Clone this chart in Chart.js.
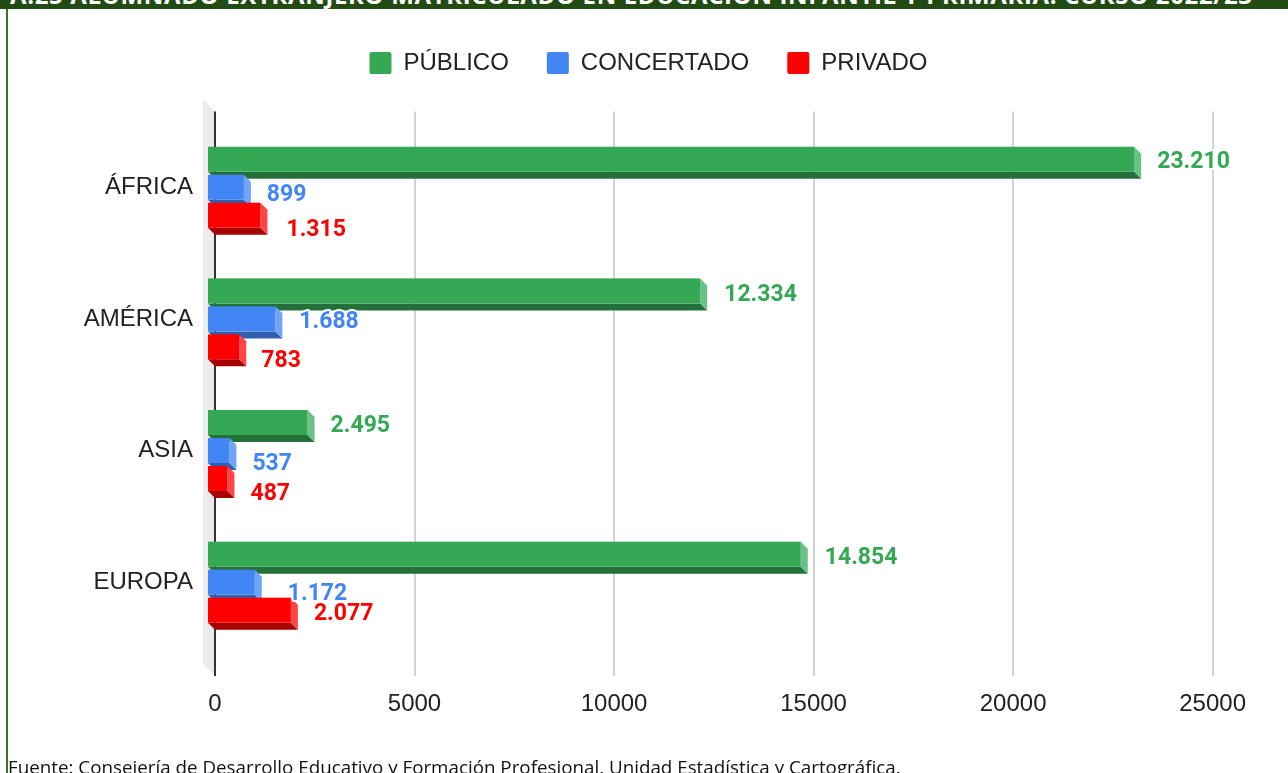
<!DOCTYPE html>
<html lang="es">
<head>
<meta charset="utf-8">
<script src="https://cdn.jsdelivr.net/npm/chart.js@4.4.1/dist/chart.umd.min.js"></script>
<style>
  html, body { margin: 0; padding: 0; background: #fff; }
  body { width: 1288px; height: 773px; position: relative; overflow: hidden; }
  #banner { position: absolute; left: 0; top: 0; width: 1288px; height: 9px; background: #214b12; overflow: hidden; }
  #banner span { position: absolute; left: 10px; top: -17px; font: bold 24px "Open Sans", sans-serif; line-height: 24px; color: #fff; white-space: nowrap; letter-spacing: 0.65px; }
  #leftLine { position: absolute; left: 6px; top: 9px; width: 2px; height: 764px; background: #3f6f2c; }
  #chartBox { position: absolute; left: 8px; top: 9px; width: 1280px; height: 764px; }
  #source { position: absolute; left: 8px; top: 755px; font: 18.8px "Open Sans", sans-serif; line-height: 24px; color: #111; white-space: nowrap; }
</style>
</head>
<body>
<div id="banner"><span>A.25 ALUMNADO EXTRANJERO MATRICULADO EN EDUCACIÓN INFANTIL Y PRIMARIA. CURSO 2022/23</span></div>
<div id="leftLine"></div>
<div id="chartBox"><canvas id="chart" width="1280" height="764"></canvas></div>
<div id="source">Fuente: Consejería de Desarrollo Educativo y Formación Profesional. Unidad Estadística y Cartográfica.</div>
<script>
// Data
const regions = ['ÁFRICA', 'AMÉRICA', 'ASIA', 'EUROPA'];
const publico = [23210, 12334, 2495, 14854];
const concertado = [899, 1688, 537, 1172];
const privado = [1315, 783, 487, 2077];
const xTicks = [0, 5000, 10000, 15000, 20000, 25000];

// 3D look (front / side / bottom faces)
const faceColors = [
    { front: '#34a853', side: '#68c186', bottom: '#24703a' },
    { front: '#4285f4', side: '#6fa4f7', bottom: '#2f5fae' },
    { front: '#ff0000', side: '#ff4545', bottom: '#a80000' }
];
// value label shifts [dx, dy] per series, per category (labels dodge each other)
const labelNudge = [
    [[16, 3], [17, 4], [16, 4], [17, 4]],
    [[16, 8], [17, 3], [16, 14], [26, 12]],
    [[19, 15], [15, 14], [16, 16], [16, 4]]
];
const DEPTH = 7;
const PAD_LEFT = 76;

function fmt(v) {
    return String(v).replace(/\B(?=(\d{3})+(?!\d))/g, '.');
}

const bars3d = {
    id: 'bars3d',
    beforeDatasetsDraw(chart) {
        const ctx = chart.ctx;
        const { left, top, bottom } = chart.chartArea;
        const xs = chart.scales.x;
        const y0 = top - 10, y1 = bottom + 28;

        ctx.save();
        // back wall
        ctx.fillStyle = '#ebebeb';
        ctx.beginPath();
        ctx.moveTo(left - 12, top - 22);
        ctx.lineTo(left, y0);
        ctx.lineTo(left, y1);
        ctx.lineTo(left - 12, bottom + 16);
        ctx.closePath();
        ctx.fill();

        // grid lines
        ctx.strokeStyle = '#d2d2d2';
        ctx.lineWidth = 2;
        xTicks.slice(1).forEach(t => {
            const px = Math.round(xs.getPixelForValue(t));
            ctx.beginPath();
            ctx.moveTo(px, y0);
            ctx.lineTo(px, y1);
            ctx.stroke();
        });
        // zero line
        ctx.strokeStyle = '#333';
        ctx.beginPath();
        ctx.moveTo(left, y0);
        ctx.lineTo(left, y1);
        ctx.stroke();

        // bars, category by category
        const n = chart.data.labels.length;
        for (let i = 0; i < n; i++) {
            chart.data.datasets.forEach((ds, d) => {
                const el = chart.getDatasetMeta(d).data[i];
                const { x, y, base, height } = el.getProps(['x', 'y', 'base', 'height'], true);
                const c = faceColors[d];
                const t = y - height / 2, b = y + height / 2;
                const fx0 = base - DEPTH, fx1 = x - DEPTH;
                ctx.fillStyle = c.bottom;
                ctx.beginPath();
                ctx.moveTo(fx0, b); ctx.lineTo(fx1, b); ctx.lineTo(x, b + DEPTH); ctx.lineTo(base, b + DEPTH);
                ctx.closePath(); ctx.fill();
                ctx.fillStyle = c.side;
                ctx.beginPath();
                ctx.moveTo(fx1, t); ctx.lineTo(x, t + DEPTH); ctx.lineTo(x, b + DEPTH); ctx.lineTo(fx1, b);
                ctx.closePath(); ctx.fill();
                ctx.fillStyle = c.front;
                ctx.fillRect(fx0, t, fx1 - fx0, height);
            });
        }

        // value labels
        ctx.font = 'bold 23px Roboto, sans-serif';
        ctx.textAlign = 'left';
        ctx.textBaseline = 'middle';
        ctx.lineJoin = 'round';
        chart.data.datasets.forEach((ds, d) => {
            chart.getDatasetMeta(d).data.forEach((el, i) => {
                const { x, y } = el.getProps(['x', 'y'], true);
                const txt = fmt(ds.data[i]);
                const [dx, dy] = labelNudge[d][i];
                ctx.strokeStyle = '#fff';
                ctx.lineWidth = 4;
                ctx.strokeText(txt, x + dx, y + dy);
                ctx.fillStyle = faceColors[d].front;
                ctx.fillText(txt, x + dx, y + dy);
            });
        });
        ctx.restore();
        return false;
    }
};

const axisFont = { family: 'Arial, "Liberation Sans", sans-serif', size: 24 };

new Chart(document.getElementById('chart'), {
    type: 'bar',
    data: {
        labels: regions,
        datasets: [
            { label: 'PÚBLICO', data: publico, backgroundColor: faceColors[0].front },
            { label: 'CONCERTADO', data: concertado, backgroundColor: faceColors[1].front },
            { label: 'PRIVADO', data: privado, backgroundColor: faceColors[2].front }
        ]
    },
    options: {
        indexAxis: 'y',
        responsive: false,
        animation: false,
        categoryPercentage: 0.638,
        barPercentage: 0.893,
        layout: { padding: { top: 4, right: 75, bottom: 25, left: PAD_LEFT } },
        scales: {
            x: {
                min: 0, max: 25000,
                ticks: { stepSize: 5000, color: '#222', font: axisFont, padding: 42, maxRotation: 0,
                         callback: v => String(v) },
                grid: { display: false, drawTicks: false },
                border: { display: false },
                afterFit: s => { s.height = 100; }
            },
            y: {
                ticks: { color: '#222', font: axisFont, padding: 22 },
                grid: { display: false, drawTicks: false },
                border: { display: false },
                afterFit: s => { s.width = 207 - PAD_LEFT; }
            }
        },
        plugins: {
            legend: {
                position: 'top',
                labels: {
                    boxWidth: 22, boxHeight: 22, padding: 38,
                    color: '#222', font: axisFont,
                    useBorderRadius: true, borderRadius: 2
                }
            },
            subtitle: {
                display: true, text: '', weight: 500,
                font: { size: 12 }, padding: { top: 0, bottom: 22 }
            },
            tooltip: { enabled: false }
        }
    },
    plugins: [bars3d]
});
</script>
</body>
</html>
